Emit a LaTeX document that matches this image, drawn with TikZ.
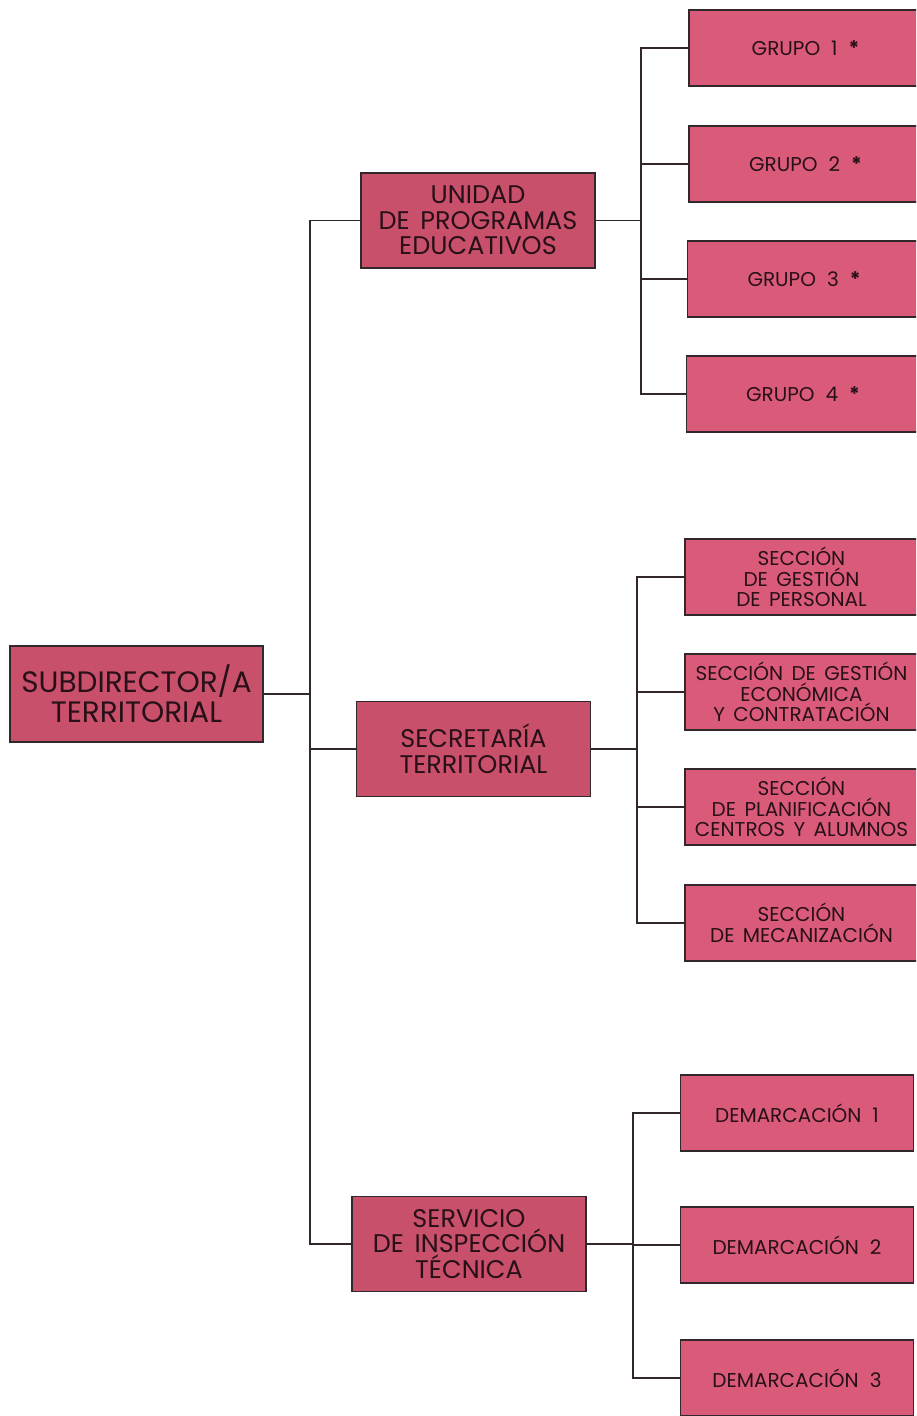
\documentclass[tikz,border=0pt]{standalone}
\usepackage{fontspec}
\setmainfont{Poppins}
\definecolor{midfill}{RGB}{200,80,106}
\definecolor{rightfill}{RGB}{217,90,121}
\definecolor{txt}{RGB}{40,16,24}
\definecolor{edge}{RGB}{50,40,44}
\newcommand{\gapw}{\hspace{0.55em}}
\newcommand{\wsp}{\hspace{0.42em}}
\tikzset{
  box/.style={draw=edge, line width=1.3pt, rectangle, align=center, text=txt, inner sep=0pt},
  rootbox/.style={box, fill=midfill, minimum width=253pt, minimum height=96pt, font=\fontsize{29.5}{30}\selectfont},
  midbox/.style={box, fill=midfill, minimum width=234pt, minimum height=95pt, font=\fontsize{25.5}{25.5}\selectfont},
  leafbox/.style={box, fill=rightfill, minimum width=233pt, minimum height=76pt, font=\fontsize{20}{20.5}\selectfont},
  conn/.style={draw=edge, line width=1.3pt}
}
\begin{document}
\begin{tikzpicture}[x=1pt,y=-1pt]
\useasboundingbox (0,0) rectangle (916,1416);
\clip (0,0) rectangle (916,1416);
% root
\node[rootbox] (root) at (136.5,694) {SUBDIRECTOR/A\\TERRITORIAL};
% middle level
\node[midbox] (u) at (478,220.5) {UNIDAD\\DE\wsp PROGRAMAS\\EDUCATIVOS};
\node[midbox] (s) at (473.5,749) {SECRETARÍA\\TERRITORIAL};
\node[midbox] (v) at (469,1244) {SERVICIO\\DE\wsp INSPECCIÓN\\TÉCNICA};
% leaves
\node[leafbox] (g1) at (805.5,48) {GRUPO\gapw 1\gapw\textbf{*}};
\node[leafbox] (g2) at (805.5,164) {GRUPO\gapw 2\gapw\textbf{*}};
\node[leafbox] (g3) at (804,279) {GRUPO\gapw 3\gapw\textbf{*}};
\node[leafbox] (g4) at (803,394) {GRUPO\gapw 4\gapw\textbf{*}};
\node[leafbox] (p1) at (801.5,577) {SECCIÓN\\DE\wsp GESTIÓN\\DE\wsp PERSONAL};
\node[leafbox] (p2) at (801.5,692) {SECCIÓN\wsp DE\wsp GESTIÓN\\ECONÓMICA\\Y\wsp CONTRATACIÓN};
\node[leafbox] (p3) at (801.5,807) {SECCIÓN\\DE\wsp PLANIFICACIÓN\\CENTROS\wsp Y\wsp ALUMNOS};
\node[leafbox] (p4) at (801.5,923) {SECCIÓN\\DE\wsp MECANIZACIÓN};
\node[leafbox] (d1) at (797,1113) {DEMARCACIÓN\gapw 1};
\node[leafbox] (d2) at (797,1245) {DEMARCACIÓN\gapw 2};
\node[leafbox] (d3) at (797,1378) {DEMARCACIÓN\gapw 3};
% trunk coordinates
\coordinate (t) at (310,0);
\coordinate (bu) at (641,0);
\coordinate (bs) at (637,0);
\coordinate (bv) at (633,0);
% root to middle
\draw[conn] (root.east) -- (root.east -| t);
\draw[conn] (u.west) -- (u.west -| t) |- (v.west);
\draw[conn] (s.west) -- (s.west -| t);
% unidad to grupos
\draw[conn] (u.east) -- (u.east -| bu);
\draw[conn] (g1.west) -- (g1.west -| bu) |- (g4.west);
\draw[conn] (g2.west) -- (g2.west -| bu);
\draw[conn] (g3.west) -- (g3.west -| bu);
% secretaria to secciones
\draw[conn] (s.east) -- (s.east -| bs);
\draw[conn] (p1.west) -- (p1.west -| bs) |- (p4.west);
\draw[conn] (p2.west) -- (p2.west -| bs);
\draw[conn] (p3.west) -- (p3.west -| bs);
% servicio to demarcaciones
\draw[conn] (v.east) -- (v.east -| bv);
\draw[conn] (d1.west) -- (d1.west -| bv) |- (d3.west);
\draw[conn] (d2.west) -- (d2.west -| bv);
\end{tikzpicture}
\end{document}
